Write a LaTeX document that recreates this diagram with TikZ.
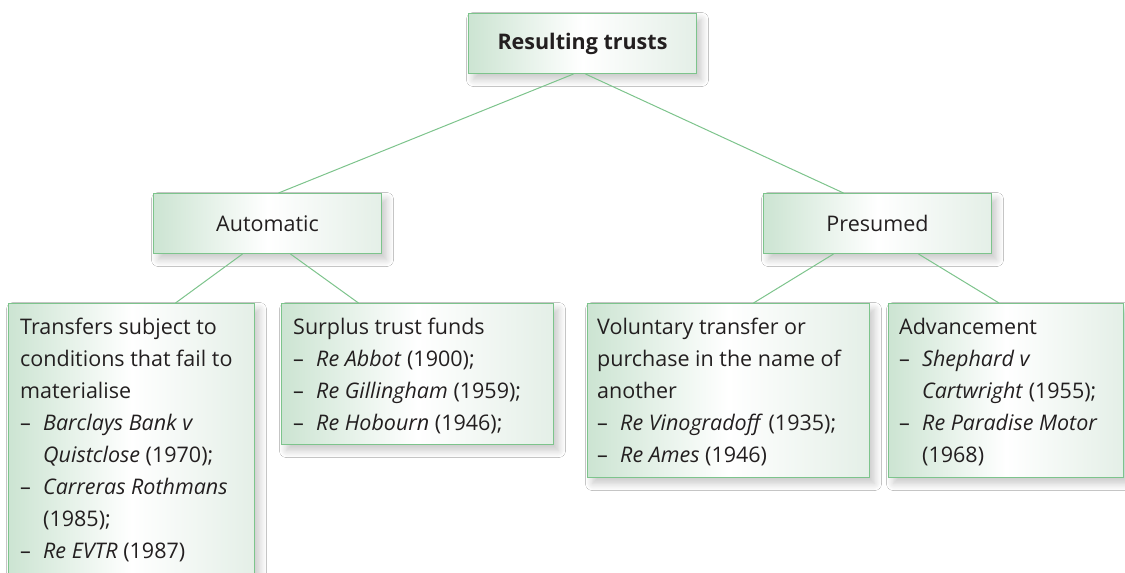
\documentclass[tikz,border=0pt]{standalone}
\usepackage{fontspec}
\setmainfont{Open Sans}
\usetikzlibrary{calc,shadows.blur}
\definecolor{gborder}{RGB}{125,196,140}
\definecolor{gleft}{RGB}{204,228,210}
\definecolor{gright}{RGB}{228,239,231}
\definecolor{txt}{RGB}{35,31,32}
\newcommand{\mydash}{\makebox[23pt][l]{–}}
\newcommand{\myind}{\hspace*{23pt}}
\tikzset{
  box/.style={draw=gborder, line width=1pt, left color=gleft, right color=gright, middle color=white,
    inner sep=0pt, anchor=north west,
    blur shadow={shadow blur steps=10, shadow xshift=5pt, shadow yshift=-6pt, shadow opacity=22, shadow blur radius=7pt}},
  boxtext/.style={anchor=north west, align=left, inner sep=0pt, text=txt,
    font=\fontsize{21.5}{32}\selectfont},
  headtext/.style={text=txt, font=\fontsize{21.5}{32}\selectfont},
  conn/.style={draw=gborder, line width=1pt}
}
\begin{document}
\begin{tikzpicture}[x=1pt,y=-1pt]
\useasboundingbox[fill=white] (0,0) rectangle (1125,573);
% boxes
\node[box, minimum width=228pt, minimum height=60pt] (top) at (468,13) {};
\node[headtext, font=\fontsize{21.5}{32}\selectfont\bfseries] (toptext) at (top.center) {Resulting trusts};
\node[box, minimum width=228pt, minimum height=60pt] (auto) at (153,193) {};
\node[headtext] (autotext) at (auto.center) {Automatic};
\node[box, minimum width=228pt, minimum height=60pt] (pres) at (763,193) {};
\node[headtext] (prestext) at (pres.center) {Presumed};
\node[box, minimum width=246pt, minimum height=273pt] (leaf1) at (8,303) {};
\node[box, minimum width=272pt, minimum height=141pt] (leaf2) at (281,303) {};
\node[box, minimum width=282pt, minimum height=174pt] (leaf3) at (587,303) {};
\node[box, minimum width=235pt, minimum height=174pt] (leaf4) at (888,303) {};
% texts
\node[boxtext] (leaf1t) at ($(leaf1.north west)+(12,8.6)$) {%
\strut Transfers subject to\\
\strut conditions that fail to\\
\strut materialise\\
\strut\mydash\textit{Barclays Bank v}\\
\strut\myind\textit{Quistclose} (1970);\\
\strut\mydash\textit{Carreras Rothmans}\\
\strut\myind(1985);\\
\strut\mydash\textit{Re EVTR} (1987)};
\node[boxtext] (leaf2t) at ($(leaf2.north west)+(12,8.6)$) {%
\strut Surplus trust funds\\
\strut\mydash\textit{Re Abbot} (1900);\\
\strut\mydash\textit{Re Gillingham} (1959);\\
\strut\mydash\textit{Re Hobourn} (1946);};
\node[boxtext] (leaf3t) at ($(leaf3.north west)+(10,8.6)$) {%
\strut Voluntary transfer or\\
\strut purchase in the name of\\
\strut another\\
\strut\mydash\textit{Re Vinogradoff} (1935);\\
\strut\mydash\textit{Re Ames} (1946)};
\node[boxtext] (leaf4t) at ($(leaf4.north west)+(11,8.6)$) {%
\strut Advancement\\
\strut\mydash\textit{Shephard v}\\
\strut\myind\textit{Cartwright} (1955);\\
\strut\mydash\textit{Re Paradise Motor}\\
\strut\myind(1968)};
% connectors
\draw[conn] ($(top.south)+(-9,0)$) -- ($(auto.north)+(11,0)$);
\draw[conn] ($(top.south)+(3,0)$) -- ($(pres.north)+(-34,0)$);
\draw[conn] ($(auto.south)+(-25,0)$) -- ($(leaf1.north)+(44,0)$);
\draw[conn] ($(auto.south)+(23,0)$) -- ($(leaf2.north)+(-59,0)$);
\draw[conn] ($(pres.south)+(-44,0)$) -- ($(leaf3.north)+(25,0)$);
\draw[conn] ($(pres.south)+(41,0)$) -- ($(leaf4.north)+(-7,0)$);
\end{tikzpicture}
\end{document}
